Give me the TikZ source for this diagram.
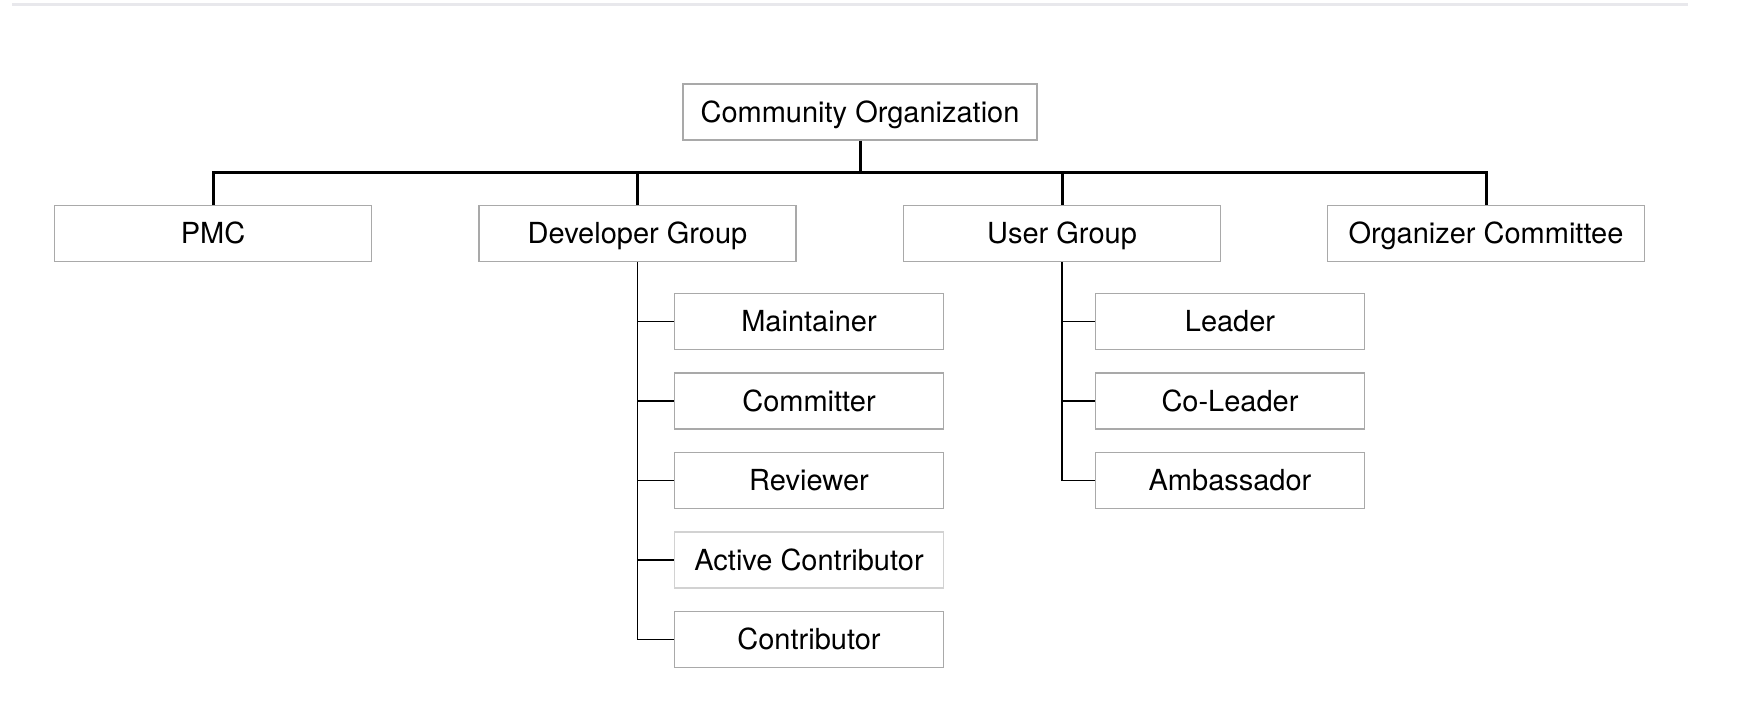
\documentclass[tikz,border=0pt]{standalone}
\usepackage{fontspec}
\setmainfont{TeX Gyre Heros}
\definecolor{boxgray}{HTML}{A9A9A9}
\definecolor{lightgray}{HTML}{D2D2D2}
\definecolor{rulegray}{HTML}{E8E8EC}
\tikzset{
  org/.style={draw=boxgray, line width=0.7pt, minimum width=158.5pt, minimum height=28pt,
    inner sep=0pt, text height=10.2pt, text depth=0pt, font=\fontsize{14.5}{17}\selectfont},
  role/.style={org, minimum width=134.7pt},
  bus/.style={line width=1.5pt},
  branch/.style={line width=0.7pt}
}
\begin{document}
\begin{tikzpicture}[x=0.5pt, y=-0.5pt]
  \useasboundingbox (0,0) rectangle (1740,710);
  \draw[rulegray, line width=1.5pt] (12,4.5) -- (1688,4.5);

  \node[org, minimum width=177pt] (CO) at (860,112) {Community Organization};
  \node[org] (PMC) at (213,233.5) {PMC};
  \node[org] (DG) at (637.5,233.5) {Developer Group};
  \node[org] (UG) at (1062,233.5) {User Group};
  \node[org] (OC) at (1486,233.5) {Organizer Committee};

  \node[role] (MA) at (809,321.5) {Maintainer};
  \node[role] (CM) at (809,401) {Committer};
  \node[role] (RV) at (809,480.5) {Reviewer};
  \node[role, draw=lightgray] (AC) at (809,560) {Active Contributor};
  \node[role] (CT) at (809,639.5) {Contributor};

  \node[role] (LD) at (1230,321.5) {Leader};
  \node[role] (CL) at (1230,401) {Co-Leader};
  \node[role] (AM) at (1230,480.5) {Ambassador};

  \coordinate (J) at (860,172.5);
  \draw[bus] (CO) -- (J);
  \draw[bus] (PMC.north) |- (J);
  \draw[bus] (DG.north) |- (J);
  \draw[bus] (UG.north) |- (J);
  \draw[bus] (OC.north) |- (J);

  \draw[branch] (DG.south) |- (MA.west);
  \draw[branch] (DG.south) |- (CM.west);
  \draw[branch] (DG.south) |- (RV.west);
  \draw[branch] (DG.south) |- (AC.west);
  \draw[branch] (DG.south) |- (CT.west);
  \draw[branch] (UG.south) |- (LD.west);
  \draw[branch] (UG.south) |- (CL.west);
  \draw[branch] (UG.south) |- (AM.west);

\end{tikzpicture}
\end{document}
